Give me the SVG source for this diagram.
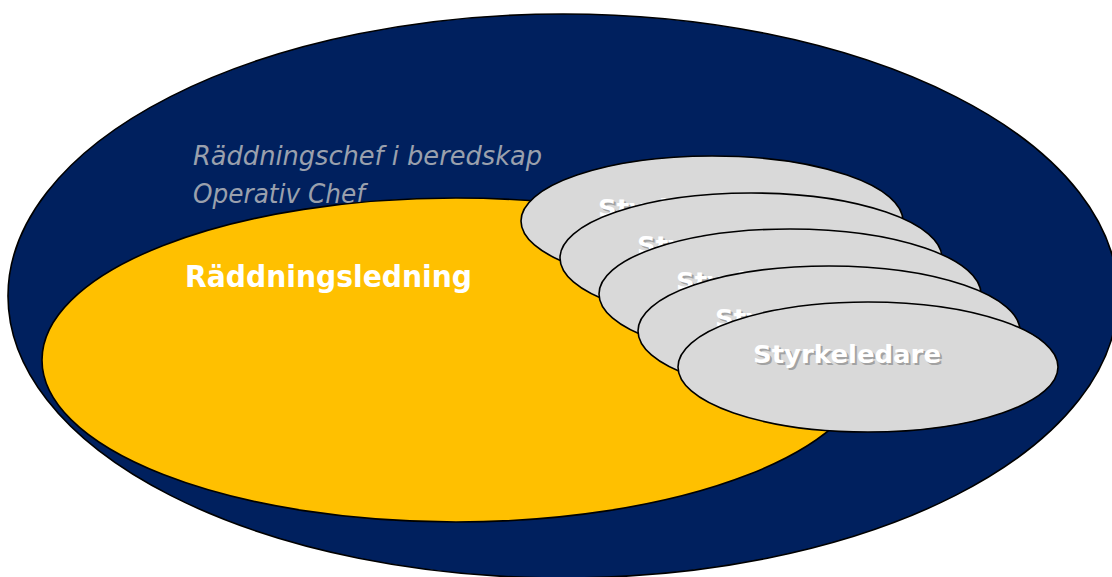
<svg xmlns="http://www.w3.org/2000/svg" width="1112" height="577" viewBox="0 0 1112 577">
<defs>
<style>
.sk{fill:#D9D9D9;stroke:#000;stroke-width:1.6}
.st{font-family:"DejaVu Sans",Verdana,sans-serif;font-weight:bold;font-size:25px;fill:#fff}
.sh{font-family:"DejaVu Sans",Verdana,sans-serif;font-weight:bold;font-size:25px;fill:#8c8c8c;opacity:0.7}
.it{font-family:"DejaVu Sans",Verdana,sans-serif;font-style:italic;font-size:26px;fill:#9aa0ad}
</style>
</defs>
<rect width="1112" height="577" fill="#fff"/>
<g id="outer">
<ellipse cx="563" cy="296" rx="555" ry="282" fill="#00205E" stroke="#000" stroke-width="1.6"/>
<text class="it" x="193" y="165" textLength="349" lengthAdjust="spacingAndGlyphs">Räddningschef i beredskap</text>
<text class="it" x="193" y="203" textLength="172" lengthAdjust="spacingAndGlyphs">Operativ Chef</text>
</g>
<g id="raddningsledning">
<ellipse cx="456" cy="360" rx="414" ry="162" fill="#FFC000" stroke="#000" stroke-width="1.6"/>
<text x="185" y="287" textLength="287" lengthAdjust="spacingAndGlyphs" style="font-family:'DejaVu Sans',Verdana,sans-serif;font-weight:bold;font-size:30px;fill:#fff">Räddningsledning</text>
</g>
<g id="styrke1">
<ellipse class="sk" cx="712" cy="221" rx="191" ry="65"/>
<text class="sh" x="600" y="219" textLength="188" lengthAdjust="spacingAndGlyphs">Styrkeledare</text>
<text class="st" x="598" y="217" textLength="188" lengthAdjust="spacingAndGlyphs">Styrkeledare</text>
</g>
<g id="styrke2">
<ellipse class="sk" cx="751" cy="258" rx="191" ry="65"/>
<text class="sh" x="639" y="256" textLength="188" lengthAdjust="spacingAndGlyphs">Styrkeledare</text>
<text class="st" x="637" y="254" textLength="188" lengthAdjust="spacingAndGlyphs">Styrkeledare</text>
</g>
<g id="styrke3">
<ellipse class="sk" cx="790" cy="294" rx="191" ry="65"/>
<text class="sh" x="678" y="292" textLength="188" lengthAdjust="spacingAndGlyphs">Styrkeledare</text>
<text class="st" x="676" y="290" textLength="188" lengthAdjust="spacingAndGlyphs">Styrkeledare</text>
</g>
<g id="styrke4">
<ellipse class="sk" cx="829" cy="331" rx="191" ry="65"/>
<text class="sh" x="717" y="329" textLength="188" lengthAdjust="spacingAndGlyphs">Styrkeledare</text>
<text class="st" x="715" y="327" textLength="188" lengthAdjust="spacingAndGlyphs">Styrkeledare</text>
</g>
<g id="styrke5">
<ellipse class="sk" cx="868" cy="367" rx="190" ry="65"/>
<text class="sh" x="755" y="365" textLength="188" lengthAdjust="spacingAndGlyphs">Styrkeledare</text>
<text class="st" x="753" y="363" textLength="188" lengthAdjust="spacingAndGlyphs">Styrkeledare</text>
</g>
<g id="connectors"/>
</svg>
